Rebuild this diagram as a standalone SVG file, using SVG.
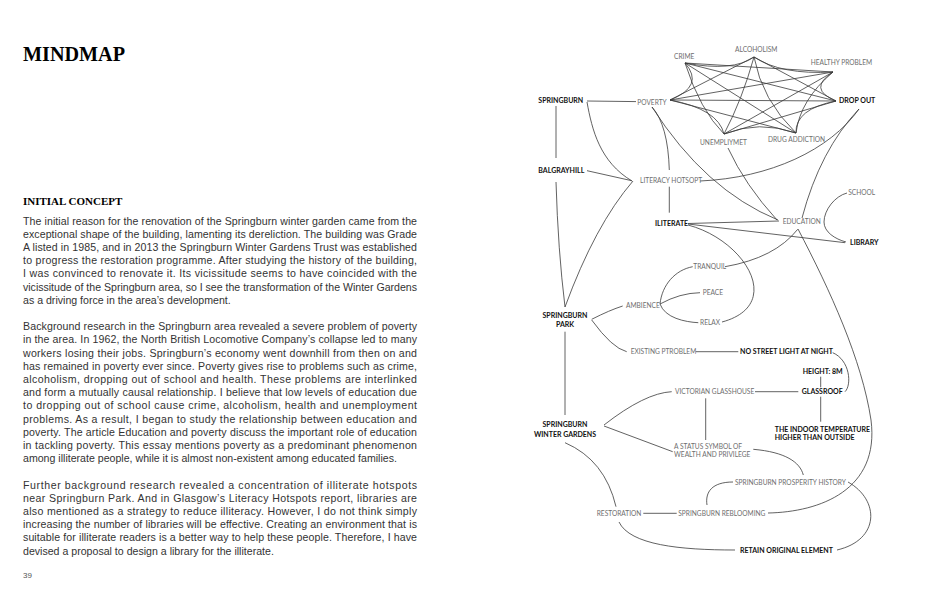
<svg xmlns="http://www.w3.org/2000/svg" width="934" height="600" viewBox="0 0 934 600">
<style>
.ttl{font-family:"Liberation Serif","Times New Roman",serif;font-weight:700;fill:#000}
.p{font-family:"Liberation Sans",Arial,sans-serif;font-size:10.6px;fill:#333}
.t{font-family:Lato,"Open Sans",sans-serif;font-size:6.6px;fill:#6e6e6e}
.b{font-family:Lato,"Open Sans",sans-serif;font-size:7px;font-weight:700;fill:#111}
.ln{fill:none;stroke:#3a3a3a;stroke-width:0.8}
</style>
<rect width="934" height="600" fill="#fff"/>
<g id="text-page">
<text class="ttl" x="23" y="61" font-size="20.2">MINDMAP</text>
<text class="ttl" x="23" y="204.5" font-size="11">INITIAL CONCEPT</text>
<g class="p">
<text x="23" y="224.5" textLength="394" lengthAdjust="spacing">The initial reason for the renovation of the Springburn winter garden came from the</text>
<text x="23" y="237.7" textLength="394" lengthAdjust="spacing">exceptional shape of the building, lamenting its dereliction. The building was Grade</text>
<text x="23" y="250.9" textLength="394" lengthAdjust="spacing">A listed in 1985, and in 2013 the Springburn Winter Gardens Trust was established</text>
<text x="23" y="264.1" textLength="394" lengthAdjust="spacing">to progress the restoration programme. After studying the history of the building,</text>
<text x="23" y="277.3" textLength="394" lengthAdjust="spacing">I was convinced to renovate it. Its vicissitude seems to have coincided with the</text>
<text x="23" y="290.5" textLength="394" lengthAdjust="spacing">vicissitude of the Springburn area, so I see the transformation of the Winter Gardens</text>
<text x="23" y="303.7">as a driving force in the area’s development.</text>
<text x="23" y="330.1" textLength="394" lengthAdjust="spacing">Background research in the Springburn area revealed a severe problem of poverty</text>
<text x="23" y="343.3" textLength="394" lengthAdjust="spacing">in the area. In 1962, the North British Locomotive Company’s collapse led to many</text>
<text x="23" y="356.5" textLength="394" lengthAdjust="spacing">workers losing their jobs. Springburn’s economy went downhill from then on and</text>
<text x="23" y="369.7" textLength="394" lengthAdjust="spacing">has remained in poverty ever since. Poverty gives rise to problems such as crime,</text>
<text x="23" y="382.9" textLength="394" lengthAdjust="spacing">alcoholism, dropping out of school and health. These problems are interlinked</text>
<text x="23" y="396.1" textLength="394" lengthAdjust="spacing">and form a mutually causal relationship. I believe that low levels of education due</text>
<text x="23" y="409.3" textLength="394" lengthAdjust="spacing">to dropping out of school cause crime, alcoholism, health and unemployment</text>
<text x="23" y="422.5" textLength="394" lengthAdjust="spacing">problems. As a result, I began to study the relationship between education and</text>
<text x="23" y="435.7" textLength="394" lengthAdjust="spacing">poverty. The article Education and poverty discuss the important role of education</text>
<text x="23" y="448.9" textLength="394" lengthAdjust="spacing">in tackling poverty. This essay mentions poverty as a predominant phenomenon</text>
<text x="23" y="462.1">among illiterate people, while it is almost non-existent among educated families.</text>
<text x="23" y="488.5" textLength="394" lengthAdjust="spacing">Further background research revealed a concentration of illiterate hotspots</text>
<text x="23" y="501.7" textLength="394" lengthAdjust="spacing">near Springburn Park. And in Glasgow’s Literacy Hotspots report, libraries are</text>
<text x="23" y="514.9" textLength="394" lengthAdjust="spacing">also mentioned as a strategy to reduce illiteracy. However, I do not think simply</text>
<text x="23" y="528.1" textLength="394" lengthAdjust="spacing">increasing the number of libraries will be effective. Creating an environment that is</text>
<text x="23" y="541.3" textLength="394" lengthAdjust="spacing">suitable for illiterate readers is a better way to help these people. Therefore, I have</text>
<text x="23" y="554.5">devised a proposal to design a library for the illiterate.</text>
</g>
<text x="23" y="578" font-family="Liberation Sans,Arial,sans-serif" font-size="8" fill="#555">39</text>
</g>
<g id="connectors" class="ln">
<path d="M670,100 Q705,86 685,63"/>
<path d="M685,63 Q733,72 754,57"/>
<path d="M754,57 Q781,75 833,72"/>
<path d="M833,72 Q807,89 836,101"/>
<path d="M836,101 Q795,109 796,133"/>
<path d="M796,133 Q759,120 724,134"/>
<path d="M724,134 Q718,109 670,100"/>
<path d="M670,100 L754,57 M670,100 L833,72 M670,100 L836,101 M670,100 L796,133"/>
<path d="M685,63 L833,72 M685,63 L836,101 M685,63 L796,133 M685,63 Q700,110 724,134"/>
<path d="M754,57 L836,101 M754,57 Q762,100 796,133 M754,57 Q742,100 724,134"/>
<path d="M833,72 Q800,100 796,133 M833,72 L724,134 M836,101 L724,134"/>
<path d="M587,101 L636,101.6"/>
<path d="M556,106 L556,158"/>
<path d="M587,102 C592,130 600,162 632,181"/>
<path d="M587,170.7 L631.7,180.7"/>
<path d="M556,182 Q558,250 565,307"/>
<path d="M633,181 Q595,225 565,307"/>
<path d="M652,107 Q668,125 669.3,170"/>
<path d="M652,107 Q705,190 778,220"/>
<path d="M728,148 Q745,185 777,220"/>
<path d="M700,181 C770,178 830,150 859,109"/>
<path d="M859,109 Q820,150 802,218"/>
<path d="M669.3,186.7 V212.7"/>
<path d="M688,223.5 L779,221"/>
<path d="M688,224 L845,242.7"/>
<path d="M688,225 C745,240 785,305 722,322"/>
<path d="M847,193 C835,196 824,210 824,222 C824,232 835,239 846,242"/>
<path d="M797.7,229.3 Q775,258 725,266.7"/>
<path d="M798,229 C830,290 862,360 871,420 C880,490 820,512 768,513"/>
<path d="M591.7,319.3 Q610,310 622.7,306"/>
<path d="M591.7,320 Q612,348 626.7,351.7"/>
<path d="M660,304 C662,285 675,270 692.7,266.7"/>
<path d="M660,304 Q680,293 700,292.7"/>
<path d="M660,304 C665,318 685,322 698.3,322.7"/>
<path d="M695.7,351.7 H738.3"/>
<path d="M832.7,352.7 C850,360 852,385 845,391.7"/>
<path d="M820.7,376.7 V387.3 M820.7,396.7 V421.7"/>
<path d="M755,391.7 H798.3"/>
<path d="M705.7,398.3 V440"/>
<path d="M565,331.7 V415"/>
<path d="M604,425 Q645,393 671.7,391.7"/>
<path d="M604,426 L672.7,451.7"/>
<path d="M565,442.7 Q605,460 616,506.7"/>
<path d="M753.3,449.3 C785,452 800,462 803.3,475"/>
<path d="M733,482 C712,482 705,492 707,505"/>
<path d="M643.3,513.3 H676.7"/>
<path d="M619,522 C630,545 680,550 735,550"/>
<path d="M848,482 C880,500 880,540 837,550"/>
</g>
<g id="n-crime"><text class="t" x="674" y="59">CRIME</text></g>
<g id="n-alcoholism"><text class="t" x="735" y="52">ALCOHOLISM</text></g>
<g id="n-healthy"><text class="t" x="810.7" y="65">HEALTHY PROBLEM</text></g>
<g id="n-dropout"><text class="b" x="839" y="102.8">DROP OUT</text></g>
<g id="n-springburn"><text class="b" x="538.3" y="103.3">SPRINGBURN</text></g>
<g id="n-poverty"><text class="t" x="637.3" y="105">POVERTY</text></g>
<g id="n-unemp"><text class="t" x="700" y="145">UNEMPLIYMET</text></g>
<g id="n-drug"><text class="t" x="768" y="142">DRUG ADDICTION</text></g>
<g id="n-balgray"><text class="b" x="538.3" y="172.5">BALGRAYHILL</text></g>
<g id="n-literacy"><text class="t" x="640" y="182.8">LITERACY HOTSOPT</text></g>
<g id="n-school"><text class="t" x="848.3" y="195.3">SCHOOL</text></g>
<g id="n-iliterate"><text class="b" x="655" y="226">ILITERATE</text></g>
<g id="n-education"><text class="t" x="782.7" y="224.3">EDUCATION</text></g>
<g id="n-library"><text class="b" x="850" y="245">LIBRARY</text></g>
<g id="n-tranquil"><text class="t" x="693.3" y="269.3">TRANQUIL</text></g>
<g id="n-peace"><text class="t" x="702.7" y="295.3">PEACE</text></g>
<g id="n-ambience"><text class="t" x="626" y="308.3">AMBIENCE</text></g>
<g id="n-relax"><text class="t" x="700" y="325.3">RELAX</text></g>
<g id="n-park"><text class="b" x="565" y="318.3" text-anchor="middle">SPRINGBURN</text><text class="b" x="565" y="327.3" text-anchor="middle">PARK</text></g>
<g id="n-existing"><text class="t" x="630.7" y="354.3">EXISTING PTROBLEM</text></g>
<g id="n-nolight"><text class="b" x="740" y="354.3">NO STREET LIGHT AT NIGHT</text></g>
<g id="n-height"><text class="b" x="802.7" y="374.3">HEIGHT: 8M</text></g>
<g id="n-victorian"><text class="t" x="675" y="394.3">VICTORIAN GLASSHOUSE</text></g>
<g id="n-glassroof"><text class="b" x="801.7" y="394.3">GLASSROOF</text></g>
<g id="n-wintergardens"><text class="b" x="565" y="427" text-anchor="middle">SPRINGBURN</text><text class="b" x="565" y="436.5" text-anchor="middle">WINTER GARDENS</text></g>
<g id="n-indoor"><text class="b" x="774.7" y="431.7">THE INDOOR TEMPERATURE</text><text class="b" x="774.7" y="440.2">HIGHER THAN OUTSIDE</text></g>
<g id="n-status"><text class="t" x="674" y="448.5">A STATUS SYMBOL OF</text><text class="t" x="674" y="456.7">WEALTH AND PRIVILEGE</text></g>
<g id="n-prosperity"><text class="t" x="735" y="485.3">SPRINGBURN PROSPERITY HISTORY</text></g>
<g id="n-restoration"><text class="t" x="596.7" y="516">RESTORATION</text></g>
<g id="n-reblooming"><text class="t" x="678.3" y="516">SPRINGBURN REBLOOMING</text></g>
<g id="n-retain"><text class="b" x="740" y="553.3">RETAIN ORIGINAL ELEMENT</text></g>
</svg>
